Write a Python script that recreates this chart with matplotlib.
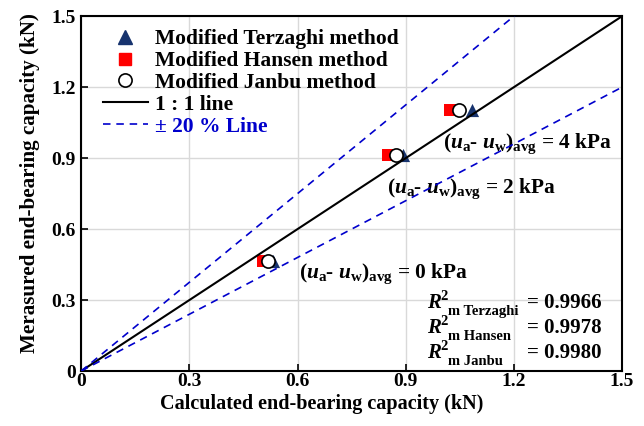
import numpy as np
import matplotlib
matplotlib.use("Agg")
import matplotlib.pyplot as plt
from matplotlib.lines import Line2D

plt.rcParams['font.family'] = ['Liberation Serif', 'DejaVu Serif']
plt.rcParams['font.weight'] = 'bold'
plt.rcParams['mathtext.fontset'] = 'custom'
plt.rcParams['mathtext.rm'] = 'Liberation Serif:bold'
plt.rcParams['mathtext.it'] = 'Liberation Serif:bold:italic'
plt.rcParams['mathtext.bf'] = 'Liberation Serif:bold'

# calculated vs measured end-bearing capacity (kN), suction 0 / 2 / 4 kPa
measured = [0.465, 0.912, 1.102]
terzaghi = [0.532, 0.893, 1.083]
hansen = [0.505, 0.851, 1.023]
janbu = [0.518, 0.873, 1.048]
suction = [0, 2, 4]
r2_names = ['Terzaghi', 'Hansen', 'Janbu']
r2_values = [0.9966, 0.9978, 0.9980]

navy = '#17336E'
blue = '#0000CC'

fig = plt.figure(figsize=(6.44, 4.26), dpi=100)
ax = fig.add_axes([0.126, 0.129, 0.84, 0.833])

ref = np.array([0, 1.5])
ax.plot(ref, ref, color='black', lw=1.5, zorder=5)
ax.plot(ref, ref * 1.25, color=blue, lw=1.2, ls=(0, (4.5, 3.5)), zorder=5)
ax.plot(ref, ref * 0.8, color=blue, lw=1.2, ls=(0, (4.5, 3.5)), zorder=5)

ax.scatter(hansen, measured, marker='s', s=80, color='#FF0000', lw=0, zorder=3)
ax.scatter(terzaghi, measured, marker='^', s=90, color=navy, lw=0, zorder=3)
ax.scatter(janbu, measured, marker='o', s=90, facecolor='white', edgecolor='black', lw=1.2, zorder=4)

ax.set_xlim(0, 1.5)
ax.set_ylim(0, 1.5)
ticks = [0, 0.3, 0.6, 0.9, 1.2, 1.5]
labels = ['0', '0.3', '0.6', '0.9', '1.2', '1.5']
ax.set_xticks(ticks)
ax.set_xticklabels(labels)
ax.set_yticks(ticks)
ax.set_yticklabels(labels)
ax.tick_params(direction='in', length=5, width=1.2, labelsize=14)
ax.tick_params(axis='x', pad=1.5)
ax.tick_params(axis='y', pad=4)
ax.grid(color='#D9D9D9', lw=1)
ax.set_axisbelow(True)
for sp in ax.spines.values():
    sp.set_linewidth(1.5)

ax.set_xlabel('Calculated end-bearing capacity (kN)', fontsize=14.5, fontweight='bold')
ax.xaxis.set_label_coords(0.445, -0.066)
ax.set_ylabel('Merasured end-bearing capacity (kN)', fontsize=15.2, fontweight='bold')
ax.yaxis.set_label_coords(-0.076, 0.53)

# suction labels
label_pos = [(0.604, 0.393), (0.848, 0.752), (1.004, 0.942)]
for s, (lx, ly) in zip(suction, label_pos):
    ax.text(lx, ly, r'$(u_\mathrm{a}$- $u_\mathrm{w})_\mathrm{avg}$' + ' = %d kPa' % s,
            fontsize=15.4, fontweight='bold', va='baseline', ha='left')

# R2 block: R, superscript 2 and subscript drawn as separate pieces
r2_y = [0.266, 0.161, 0.055]
for n, v, yy in zip(r2_names, r2_values, r2_y):
    ax.annotate('R', (0.958, yy), fontsize=15, fontstyle='italic', fontweight='bold',
                va='baseline', ha='left')
    ax.annotate('2', (0.958, yy), xytext=(10, 6), textcoords='offset points',
                fontsize=10.5, fontweight='bold', va='baseline', ha='left')
    ax.annotate('m ' + n, (0.958, yy), xytext=(15.5, -5), textcoords='offset points',
                fontsize=10.5, fontweight='bold', va='baseline', ha='left')
    ax.text(1.444, yy, '= %.4f' % v, fontsize=15, fontweight='bold', va='baseline', ha='right')

handles = [
    Line2D([], [], marker='^', color=navy, ls='none', ms=9.5),
    Line2D([], [], marker='s', color='#FF0000', ls='none', ms=9),
    Line2D([], [], marker='o', mfc='white', mec='black', ls='none', ms=9.5, mew=1.2),
    Line2D([], [], color='black', lw=1.5),
    Line2D([], [], color=blue, lw=1.2, ls=(0, (4.5, 3.5))),
]
names = ['Modified Terzaghi method', 'Modified Hansen method', 'Modified Janbu method',
         '1 : 1 line', '\u00b1 20 % Line']
leg = ax.legend(handles, names, loc='upper left', bbox_to_anchor=(0.041, 0.963),
                frameon=False, handlelength=2.06, handletextpad=0.35, labelspacing=0.08,
                borderaxespad=0, borderpad=0, prop={'weight': 'bold', 'size': 15.5})
leg.get_texts()[4].set_color(blue)

fig.savefig('out.png', dpi=100)
